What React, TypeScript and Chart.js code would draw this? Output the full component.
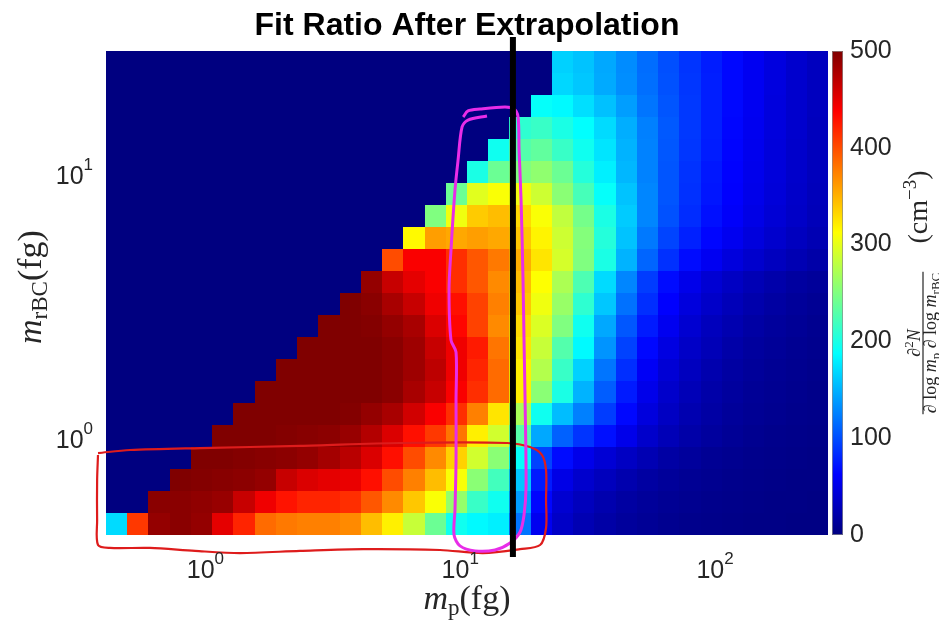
import React, { useEffect, useRef } from "react";
import { Chart, registerables } from "chart.js";

Chart.register(...registerables);

const TITLE = "Fit Ratio After Extrapolation";
const SANS = '"Liberation Sans", Arial, Helvetica, sans-serif';
const SERIF = '"Liberation Serif", "Times New Roman", serif';
const TEXT = "#262626";

// ---- bins (log-spaced, 12 per decade) ----
const X_LOG_START = -0.39;
const Y_LOG_START = -0.36;
const BINS_PER_DECADE = 12;
const N_X_BINS = 34;
const N_Y_BINS = 22;
const xEdges = Array.from({ length: N_X_BINS + 1 }, (_, k) => Math.pow(10, X_LOG_START + k / BINS_PER_DECADE));
const yEdges = Array.from({ length: N_Y_BINS + 1 }, (_, k) => Math.pow(10, Y_LOG_START + k / BINS_PER_DECADE));

// ---- tick labels ----
const xTickValues = [1, 10, 100];
const xTickExponents = ["0", "1", "2"];
const yTickValues = [1, 10];
const yTickExponents = ["0", "1"];
const cbTickValues = [0, 100, 200, 300, 400, 500];
const CB_MIN = 0;
const CB_MAX = 500;

// ---- cell values, one row per m_rBC bin (bottom row first), one entry per m_p bin ----
const row00 = [170, 410, 490, 495, 490, 450, 420, 385, 378, 375, 375, 370, 345, 320, 285, 240, 195, 185, 180, 120, 55, 35, 25, 19, 14, 11, 8, 6, 5, 4, 3, 3, 2, 2];
const row01 = [0, 0, 495, 495, 492, 488, 465, 445, 428, 420, 420, 415, 395, 370, 340, 310, 260, 215, 195, 140, 65, 40, 30, 23, 17, 13, 10, 8, 6, 5, 4, 3, 3, 2];
const row02 = [0, 0, 0, 500, 498, 496, 494, 490, 465, 455, 450, 448, 430, 400, 375, 345, 310, 255, 220, 160, 75, 50, 38, 30, 23, 17, 13, 10, 8, 6, 5, 4, 3, 3];
const row03 = [0, 0, 0, 0, 500, 500, 498, 496, 494, 490, 482, 472, 455, 430, 400, 370, 335, 290, 255, 190, 95, 68, 52, 42, 33, 25, 18, 14, 10, 8, 6, 5, 4, 3];
const row04 = [0, 0, 0, 0, 0, 500, 500, 500, 498, 496, 494, 488, 475, 455, 430, 410, 380, 320, 290, 230, 145, 110, 88, 70, 52, 37, 27, 20, 15, 11, 8, 6, 5, 4];
const row05 = [0, 0, 0, 0, 0, 0, 500, 500, 500, 500, 500, 498, 490, 480, 460, 440, 415, 375, 325, 270, 195, 155, 125, 92, 66, 46, 33, 24, 18, 13, 10, 8, 6, 5];
const row06 = [0, 0, 0, 0, 0, 0, 0, 500, 500, 500, 500, 500, 500, 495, 480, 465, 440, 415, 385, 320, 255, 200, 150, 108, 75, 52, 37, 27, 20, 15, 11, 9, 7, 5];
const row07 = [0, 0, 0, 0, 0, 0, 0, 0, 500, 500, 500, 500, 500, 495, 485, 470, 445, 420, 385, 320, 275, 215, 165, 120, 85, 58, 42, 31, 23, 17, 13, 10, 8, 6];
const row08 = [0, 0, 0, 0, 0, 0, 0, 0, 0, 500, 500, 500, 500, 495, 485, 465, 445, 425, 380, 325, 285, 228, 185, 135, 95, 66, 48, 35, 27, 20, 15, 12, 9, 7];
const row09 = [0, 0, 0, 0, 0, 0, 0, 0, 0, 0, 500, 500, 498, 490, 480, 455, 435, 405, 370, 330, 295, 250, 195, 145, 105, 75, 55, 40, 30, 24, 18, 14, 11, 8];
const row10 = [0, 0, 0, 0, 0, 0, 0, 0, 0, 0, 0, 500, 495, 480, 465, 445, 430, 405, 375, 340, 305, 262, 210, 160, 118, 85, 62, 46, 36, 28, 22, 17, 13, 10];
const row11 = [0, 0, 0, 0, 0, 0, 0, 0, 0, 0, 0, 0, 490, 465, 450, 440, 415, 395, 370, 345, 312, 272, 225, 170, 128, 92, 68, 52, 41, 33, 26, 21, 16, 13];
const row12 = [0, 0, 0, 0, 0, 0, 0, 0, 0, 0, 0, 0, 0, 400, 440, 440, 415, 395, 378, 352, 325, 292, 250, 200, 150, 112, 86, 68, 56, 46, 38, 31, 25, 20];
const row13 = [0, 0, 0, 0, 0, 0, 0, 0, 0, 0, 0, 0, 0, 0, 315, 360, 355, 360, 355, 340, 318, 288, 252, 205, 158, 122, 96, 78, 65, 55, 46, 38, 31, 25];
const row14 = [0, 0, 0, 0, 0, 0, 0, 0, 0, 0, 0, 0, 0, 0, 0, 250, 305, 338, 345, 330, 310, 282, 245, 200, 162, 128, 102, 84, 70, 60, 50, 42, 35, 28];
const row15 = [0, 0, 0, 0, 0, 0, 0, 0, 0, 0, 0, 0, 0, 0, 0, 0, 240, 298, 310, 305, 288, 255, 222, 190, 158, 128, 104, 86, 73, 62, 52, 44, 36, 29];
const row16 = [0, 0, 0, 0, 0, 0, 0, 0, 0, 0, 0, 0, 0, 0, 0, 0, 0, 200, 240, 250, 258, 240, 205, 180, 152, 126, 104, 87, 74, 63, 53, 45, 37, 30];
const row17 = [0, 0, 0, 0, 0, 0, 0, 0, 0, 0, 0, 0, 0, 0, 0, 0, 0, 0, 195, 228, 235, 215, 195, 175, 150, 126, 105, 89, 76, 64, 54, 45, 37, 30];
const row18 = [0, 0, 0, 0, 0, 0, 0, 0, 0, 0, 0, 0, 0, 0, 0, 0, 0, 0, 0, 210, 215, 200, 188, 170, 148, 125, 106, 90, 77, 65, 55, 46, 38, 30];
const row19 = [0, 0, 0, 0, 0, 0, 0, 0, 0, 0, 0, 0, 0, 0, 0, 0, 0, 0, 0, 0, 190, 185, 172, 157, 140, 120, 104, 90, 77, 66, 56, 46, 38, 31];
const row20 = [0, 0, 0, 0, 0, 0, 0, 0, 0, 0, 0, 0, 0, 0, 0, 0, 0, 0, 0, 0, 0, 168, 160, 146, 132, 117, 102, 89, 77, 66, 56, 47, 38, 31];
const row21 = [0, 0, 0, 0, 0, 0, 0, 0, 0, 0, 0, 0, 0, 0, 0, 0, 0, 0, 0, 0, 0, 165, 158, 145, 131, 116, 101, 88, 76, 66, 56, 47, 38, 31];
const zRows = [row00, row01, row02, row03, row04, row05, row06, row07, row08, row09, row10, row11, row12, row13, row14, row15, row16, row17, row18, row19, row20, row21];

// ---- overlay lines (data coordinates) ----
const cutLineX = [16.1, 16.1];
const cutLineY = [33.6, 0.36];

const magentaX = [12.74, 10.73, 10.17, 9.81, 9.54, 9.2, 9.04, 9.2, 9.63, 9.63, 9.63, 9.54, 9.46, 9.98, 11.43, 13.7, 15.69, 17.17, 17.8, 18.13, 17.97, 17.8, 17.64, 17.33, 17.02, 16.87, 16.27, 14.99, 11.96, 10.73, 10.27];
const magentaY = [16.87, 16.29, 15.33, 11.5, 8.85, 5.24, 3.7, 2.39, 2.15, 1.417, 0.84, 0.543, 0.4365, 0.397, 0.38, 0.383, 0.407, 0.448, 0.52, 0.663, 1.417, 2.39, 4.04, 8.11, 12.54, 16.72, 17.93, 18.25, 17.93, 17.63, 16.72];

const redX = [0.379, 0.506, 0.953, 2.351, 5.803, 15.27, 18.79, 20.95, 21.72, 21.72, 21.72, 20.58, 17.17, 12.29, 8.334, 4.155, 2.351, 1.367, 0.911, 0.606, 0.422, 0.379, 0.376, 0.376, 0.379];
const redY = [0.892, 0.916, 0.932, 0.949, 0.974, 0.974, 0.94, 0.877, 0.769, 0.592, 0.464, 0.4, 0.386, 0.373, 0.383, 0.386, 0.38, 0.373, 0.38, 0.39, 0.39, 0.4, 0.497, 0.705, 0.877];

function jet(v: number): string {
  const t = Math.max(0, Math.min(1, (v - CB_MIN) / (CB_MAX - CB_MIN)));
  const c = (x: number) => Math.round(255 * Math.max(0, Math.min(1, x)));
  return `rgb(${c(1.5 - Math.abs(4 * t - 3))},${c(1.5 - Math.abs(4 * t - 2))},${c(1.5 - Math.abs(4 * t - 1))})`;
}

type Run = { text: string; font: string; dy?: number };
function runsWidth(ctx: CanvasRenderingContext2D, runs: Run[]) {
  let w = 0;
  for (const r of runs) {
    ctx.font = r.font;
    w += ctx.measureText(r.text).width;
  }
  return w;
}
function drawRuns(ctx: CanvasRenderingContext2D, runs: Run[], x: number, y: number) {
  let cx = x;
  for (const r of runs) {
    ctx.font = r.font;
    ctx.fillText(r.text, cx, y + (r.dy || 0));
    cx += ctx.measureText(r.text).width;
  }
}

const heatmapPlugin = {
  id: "heatmap",
  beforeDatasetsDraw(chart: any) {
    const { ctx } = chart;
    const xs = chart.scales.x;
    const ys = chart.scales.y;
    ctx.save();
    for (let r = 0; r < zRows.length; r++) {
      const yTop = Math.round(ys.getPixelForValue(yEdges[r + 1]));
      const yBot = Math.round(ys.getPixelForValue(yEdges[r]));
      const row = zRows[r];
      for (let c = 0; c < row.length; c++) {
        const xl = Math.round(xs.getPixelForValue(xEdges[c]));
        const xr = Math.round(xs.getPixelForValue(xEdges[c + 1]));
        ctx.fillStyle = jet(row[c]);
        ctx.fillRect(xl, yTop, xr - xl, yBot - yTop);
      }
    }
    ctx.restore();
  },
};

const decorPlugin = {
  id: "decor",
  afterDraw(chart: any) {
    const { ctx, chartArea: ca } = chart;
    const xs = chart.scales.x;
    const ys = chart.scales.y;
    const cb = chart.scales.cb;
    ctx.save();
    ctx.textAlign = "left";
    ctx.textBaseline = "alphabetic";

    // title
    ctx.fillStyle = "#000";
    ctx.font = `bold 32px ${SANS}`;
    const tw = ctx.measureText(TITLE).width;
    ctx.fillText(TITLE, (ca.left + ca.right) / 2 - tw / 2, ca.top - 16);

    // tick labels
    ctx.fillStyle = TEXT;
    const base = `25px ${SANS}`;
    const sup = `17px ${SANS}`;
    xTickValues.forEach((v, i) => {
      const runs: Run[] = [{ text: "10", font: base }, { text: xTickExponents[i], font: sup, dy: -14 }];
      const w = runsWidth(ctx, runs);
      drawRuns(ctx, runs, xs.getPixelForValue(v) - w / 2, ca.bottom + 43);
    });
    yTickValues.forEach((v, i) => {
      const runs: Run[] = [{ text: "10", font: base }, { text: yTickExponents[i], font: sup, dy: -14 }];
      const w = runsWidth(ctx, runs);
      drawRuns(ctx, runs, ca.left - 13 - w, ys.getPixelForValue(v) + 8);
    });

    // x label
    const xl: Run[] = [
      { text: "m", font: `italic 34px ${SERIF}` },
      { text: "p", font: `23px ${SERIF}`, dy: 6 },
      { text: "(fg)", font: `34px ${SERIF}` },
    ];
    const xlw = runsWidth(ctx, xl);
    drawRuns(ctx, xl, (ca.left + ca.right) / 2 - xlw / 2, ca.bottom + 74);

    // y label
    const yl: Run[] = [
      { text: "m", font: `italic 34px ${SERIF}` },
      { text: "rBC", font: `23px ${SERIF}`, dy: 6 },
      { text: "(fg)", font: `34px ${SERIF}` },
    ];
    const ylw = runsWidth(ctx, yl);
    ctx.save();
    ctx.translate(41, (ca.top + ca.bottom) / 2 - 6);
    ctx.rotate(-Math.PI / 2);
    drawRuns(ctx, yl, -ylw / 2, 0);
    ctx.restore();

    // colorbar
    const cbX = ca.right + 4;
    const cbW = 11;
    const top = cb.getPixelForValue(CB_MAX);
    const bot = cb.getPixelForValue(CB_MIN);
    const grad = ctx.createLinearGradient(0, bot, 0, top);
    for (let k = 0; k <= 64; k++) grad.addColorStop(k / 64, jet(CB_MIN + ((CB_MAX - CB_MIN) * k) / 64));
    ctx.fillStyle = grad;
    ctx.fillRect(cbX, top, cbW, bot - top);
    ctx.strokeStyle = "rgba(140,140,140,0.7)";
    ctx.lineWidth = 1;
    ctx.strokeRect(cbX + 0.5, top + 0.5, cbW - 1, bot - top - 1);

    // colorbar label (rotated)
    ctx.fillStyle = TEXT;
    ctx.save();
    ctx.translate(ca.right + 95, ca.top + 292);
    ctx.rotate(-Math.PI / 2);
    const it18 = `italic 18px ${SERIF}`;
    const r18 = `18px ${SERIF}`;
    const r13 = `13px ${SERIF}`;
    const num: Run[] = [
      { text: "\u2202", font: it18 },
      { text: "2", font: r13, dy: -7 },
      { text: "N", font: it18 },
    ];
    const den: Run[] = [
      { text: "\u2202", font: it18 },
      { text: " log ", font: r18 },
      { text: "m", font: it18 },
      { text: "p", font: r13, dy: 4 },
      { text: " \u2202", font: it18 },
      { text: " log ", font: r18 },
      { text: "m", font: it18 },
      { text: "rBC", font: r13, dy: 4 },
    ];
    const wn = runsWidth(ctx, num);
    const wd = runsWidth(ctx, den);
    const wb = Math.max(wn, wd) + 2;
    ctx.fillRect(-wb / 2, -0.6, wb, 1.2);
    drawRuns(ctx, num, -wn / 2, -3);
    drawRuns(ctx, den, -wd / 2, 13);
    const unit: Run[] = [
      { text: "(cm", font: `28px ${SERIF}` },
      { text: "\u22123", font: `19px ${SERIF}`, dy: -11 },
      { text: ")", font: `28px ${SERIF}` },
    ];
    const wu = runsWidth(ctx, unit);
    drawRuns(ctx, unit, 136 - wu / 2, 4);
    ctx.restore();

    ctx.restore();
  },
};

const toPoints = (xs: number[], ys: number[]) => xs.map((x, i) => ({ x, y: ys[i] }));

export default function App() {
  const ref = useRef<HTMLCanvasElement>(null);
  useEffect(() => {
    document.body.style.margin = "0";
    const chart = new Chart(ref.current as HTMLCanvasElement, {
      type: "scatter",
      data: {
        datasets: [
          {
            label: "cut",
            data: toPoints(cutLineX, cutLineY),
            showLine: true,
            borderColor: "#000",
            borderWidth: 6,
            borderCapStyle: "butt",
            pointRadius: 0,
            clip: false as any,
          },
          {
            label: "magenta",
            data: toPoints(magentaX, magentaY),
            showLine: true,
            borderColor: "rgb(232,45,232)",
            borderWidth: 3,
            pointRadius: 0,
            tension: 0.3,
            clip: false as any,
          },
          {
            label: "red",
            data: toPoints(redX, redY),
            showLine: true,
            borderColor: "rgb(222,28,28)",
            borderWidth: 2.2,
            pointRadius: 0,
            tension: 0.3,
            clip: false as any,
          },
        ],
      } as any,
      options: {
        responsive: false,
        animation: false,
        events: [],
        layout: { padding: { top: 51, left: 0, right: 0, bottom: 0 } },
        plugins: {
          legend: { display: false },
          tooltip: { enabled: false },
          title: { display: false },
        },
        scales: {
          x: {
            type: "logarithmic",
            position: "bottom",
            min: xEdges[0],
            max: xEdges[N_X_BINS],
            grid: { display: false, drawTicks: false },
            border: { display: false },
            ticks: { display: false },
            afterFit: (s: any) => {
              s.height = 89;
            },
          },
          y: {
            type: "logarithmic",
            position: "left",
            min: yEdges[0],
            max: yEdges[N_Y_BINS],
            grid: { display: false, drawTicks: false },
            border: { display: false },
            ticks: { display: false },
            afterFit: (s: any) => {
              s.width = 106;
            },
          },
          cb: {
            type: "linear",
            axis: "y",
            position: "right",
            min: CB_MIN,
            max: CB_MAX,
            grid: { display: false, drawTicks: false },
            border: { display: false },
            ticks: { padding: 22, color: TEXT, font: { family: SANS, size: 25 } },
            afterBuildTicks: (s: any) => {
              s.ticks = cbTickValues.map((v) => ({ value: v }));
            },
            afterFit: (s: any) => {
              s.width = 111;
            },
          },
        } as any,
      },
      plugins: [heatmapPlugin, decorPlugin],
    });
    return () => chart.destroy();
  }, []);
  return <canvas ref={ref} width={939} height={624} style={{ display: "block", width: "939px", height: "624px" }} />;
}
